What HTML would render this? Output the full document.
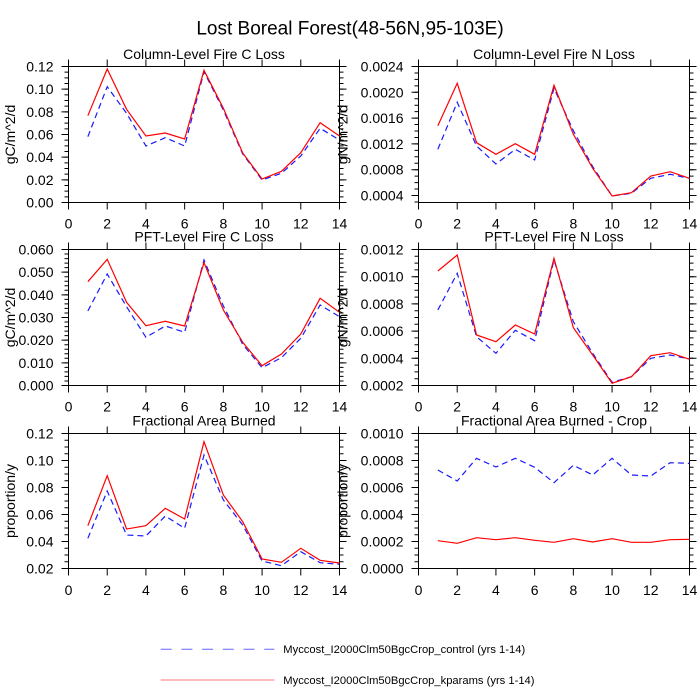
<!DOCTYPE html>
<html><head><meta charset="utf-8"><style>
html,body{margin:0;padding:0;background:#fff;}
svg{display:block;font-family:"Liberation Sans",Arial,sans-serif;}
</style></head><body>
<svg width="700" height="700" viewBox="0 0 700 700" xmlns="http://www.w3.org/2000/svg">
<rect width="700" height="700" fill="#fff"/>
<text x="350" y="34.3" font-size="19" text-anchor="middle">Lost Boreal Forest(48-56N,95-103E)</text>

<!-- ===== Panel 1 ===== -->
<g stroke="#000" fill="none">
<rect x="68.5" y="66.5" width="271" height="136" stroke-width="1"/>
<line x1="66.5" y1="203" x2="66.5" y2="66" stroke-width="4" stroke-dasharray="1 4.6667"/>
<line x1="65" y1="203" x2="65" y2="66" stroke-width="7" stroke-dasharray="1 21.667"/>
<line x1="341.5" y1="203" x2="341.5" y2="66" stroke-width="4" stroke-dasharray="1 4.6667"/>
<line x1="343" y1="203" x2="343" y2="66" stroke-width="7" stroke-dasharray="1 21.667"/>
<line x1="68" y1="63" x2="340" y2="63" stroke-width="7" stroke-dasharray="1 37.714"/>
<line x1="68" y1="206" x2="340" y2="206" stroke-width="7" stroke-dasharray="1 37.714"/>
</g>
<g font-size="14" text-anchor="end">
<text x="53.5" y="207.5">0.00</text><text x="53.5" y="184.8">0.02</text><text x="53.5" y="162.2">0.04</text><text x="53.5" y="139.5">0.06</text><text x="53.5" y="116.8">0.08</text><text x="53.5" y="94.2">0.10</text><text x="53.5" y="71.5">0.12</text>
</g>
<g font-size="14" text-anchor="middle">
<text x="68.5" y="228.3">0</text><text x="107.2" y="228.3">2</text><text x="145.9" y="228.3">4</text><text x="184.6" y="228.3">6</text><text x="223.4" y="228.3">8</text><text x="262.1" y="228.3">10</text><text x="300.8" y="228.3">12</text><text x="339.5" y="228.3">14</text>
<text x="204" y="59">Column-Level Fire C Loss</text>
<text x="15" y="134.5" transform="rotate(-90 15 134.5)">gC/m^2/d</text>
</g>
<polyline fill="none" stroke="#1a1aff" stroke-width="1.2" stroke-dasharray="6 4" points="87.86,136.7 107.21,86.7 126.57,113.3 145.93,146 165.29,137.7 184.64,146 204,71.7 223.36,110 242.71,154 262.07,180 281.43,173.3 300.79,156 320.14,128.3 339.5,140"/>
<polyline fill="none" stroke="#ff0000" stroke-width="1.2" points="87.86,115.7 107.21,69 126.57,109.3 145.93,136 165.29,133 184.64,139 204,70.3 223.36,108.3 242.71,153 262.07,179 281.43,171.3 300.79,152.7 320.14,122.7 339.5,136"/>

<!-- ===== Panel 2 ===== -->
<g stroke="#000" fill="none">
<rect x="418.5" y="66.5" width="271" height="136" stroke-width="1"/>
<line x1="416.5" y1="202.45" x2="416.5" y2="66" stroke-width="4" stroke-dasharray="1 5.45"/>
<line x1="415" y1="196" x2="415" y2="66" stroke-width="7" stroke-dasharray="1 24.8"/>
<line x1="691.5" y1="202.45" x2="691.5" y2="66" stroke-width="4" stroke-dasharray="1 5.45"/>
<line x1="693" y1="196" x2="693" y2="66" stroke-width="7" stroke-dasharray="1 24.8"/>
<line x1="418" y1="63" x2="690" y2="63" stroke-width="7" stroke-dasharray="1 37.714"/>
<line x1="418" y1="206" x2="690" y2="206" stroke-width="7" stroke-dasharray="1 37.714"/>
</g>
<g font-size="14" text-anchor="end">
<text x="403.5" y="200.5">0.0004</text><text x="403.5" y="174.7">0.0008</text><text x="403.5" y="148.9">0.0012</text><text x="403.5" y="123.1">0.0016</text><text x="403.5" y="97.3">0.0020</text><text x="403.5" y="71.5">0.0024</text>
</g>
<g font-size="14" text-anchor="middle">
<text x="418.5" y="228.3">0</text><text x="457.2" y="228.3">2</text><text x="495.9" y="228.3">4</text><text x="534.6" y="228.3">6</text><text x="573.4" y="228.3">8</text><text x="612.1" y="228.3">10</text><text x="650.8" y="228.3">12</text><text x="689.5" y="228.3">14</text>
<text x="554" y="59">Column-Level Fire N Loss</text>
<text x="347.5" y="134.5" transform="rotate(-90 347.5 134.5)">gN/m^2/d</text>
</g>
<polyline fill="none" stroke="#1a1aff" stroke-width="1.2" stroke-dasharray="6 4" points="437.86,149.3 457.21,102.3 476.57,146 495.93,164 515.29,149.3 534.64,160 554,88.3 573.36,130.7 592.71,166.7 612.07,196 631.43,193.3 650.79,178.3 670.14,174.3 689.5,178.3"/>
<polyline fill="none" stroke="#ff0000" stroke-width="1.2" points="437.86,125.7 457.21,83.3 476.57,142.7 495.93,154.3 515.29,143.7 534.64,154.3 554,85.3 573.36,134.3 592.71,168.3 612.07,196 631.43,192.7 650.79,176 670.14,171.7 689.5,178.3"/>

<!-- ===== Panel 3 ===== -->
<g stroke="#000" fill="none">
<rect x="68.5" y="249.5" width="271" height="136" stroke-width="1"/>
<line x1="66.5" y1="386" x2="66.5" y2="249" stroke-width="4" stroke-dasharray="1 3.5333"/>
<line x1="65" y1="386" x2="65" y2="249" stroke-width="7" stroke-dasharray="1 21.667"/>
<line x1="341.5" y1="386" x2="341.5" y2="249" stroke-width="4" stroke-dasharray="1 3.5333"/>
<line x1="343" y1="386" x2="343" y2="249" stroke-width="7" stroke-dasharray="1 21.667"/>
<line x1="68" y1="246" x2="340" y2="246" stroke-width="7" stroke-dasharray="1 37.714"/>
<line x1="68" y1="389" x2="340" y2="389" stroke-width="7" stroke-dasharray="1 37.714"/>
</g>
<g font-size="14" text-anchor="end">
<text x="53.5" y="390.5">0.000</text><text x="53.5" y="367.8">0.010</text><text x="53.5" y="345.2">0.020</text><text x="53.5" y="322.5">0.030</text><text x="53.5" y="299.8">0.040</text><text x="53.5" y="277.2">0.050</text><text x="53.5" y="254.5">0.060</text>
</g>
<g font-size="14" text-anchor="middle">
<text x="68.5" y="411.5">0</text><text x="107.2" y="411.5">2</text><text x="145.9" y="411.5">4</text><text x="184.6" y="411.5">6</text><text x="223.4" y="411.5">8</text><text x="262.1" y="411.5">10</text><text x="300.8" y="411.5">12</text><text x="339.5" y="411.5">14</text>
<text x="204" y="241.7">PFT-Level Fire C Loss</text>
<text x="15" y="317.5" transform="rotate(-90 15 317.5)">gC/m^2/d</text>
</g>
<polyline fill="none" stroke="#1a1aff" stroke-width="1.2" stroke-dasharray="6 4" points="87.86,311 107.21,274 126.57,306.7 145.93,337.3 165.29,326 184.64,332.3 204,260 223.36,306 242.71,344.3 262.07,367.7 281.43,357.7 300.79,338.3 320.14,305 339.5,316.7"/>
<polyline fill="none" stroke="#ff0000" stroke-width="1.2" points="87.86,281.7 107.21,259.3 126.57,302.3 145.93,325.7 165.29,321.3 184.64,326 204,262.7 223.36,310 242.71,342.3 262.07,365.7 281.43,354 300.79,334 320.14,298.3 339.5,312.3"/>

<!-- ===== Panel 4 ===== -->
<g stroke="#000" fill="none">
<rect x="418.5" y="249.5" width="271" height="136" stroke-width="1"/>
<line x1="416.5" y1="386" x2="416.5" y2="249" stroke-width="4" stroke-dasharray="1 5.8"/>
<line x1="415" y1="386" x2="415" y2="249" stroke-width="7" stroke-dasharray="1 26.2"/>
<line x1="691.5" y1="386" x2="691.5" y2="249" stroke-width="4" stroke-dasharray="1 5.8"/>
<line x1="693" y1="386" x2="693" y2="249" stroke-width="7" stroke-dasharray="1 26.2"/>
<line x1="418" y1="246" x2="690" y2="246" stroke-width="7" stroke-dasharray="1 37.714"/>
<line x1="418" y1="389" x2="690" y2="389" stroke-width="7" stroke-dasharray="1 37.714"/>
</g>
<g font-size="14" text-anchor="end">
<text x="403.5" y="390.5">0.0002</text><text x="403.5" y="363.3">0.0004</text><text x="403.5" y="336.1">0.0006</text><text x="403.5" y="308.9">0.0008</text><text x="403.5" y="281.7">0.0010</text><text x="403.5" y="254.5">0.0012</text>
</g>
<g font-size="14" text-anchor="middle">
<text x="418.5" y="411.5">0</text><text x="457.2" y="411.5">2</text><text x="495.9" y="411.5">4</text><text x="534.6" y="411.5">6</text><text x="573.4" y="411.5">8</text><text x="612.1" y="411.5">10</text><text x="650.8" y="411.5">12</text><text x="689.5" y="411.5">14</text>
<text x="554" y="241.7">PFT-Level Fire N Loss</text>
<text x="347.5" y="317.5" transform="rotate(-90 347.5 317.5)">gN/m^2/d</text>
</g>
<polyline fill="none" stroke="#1a1aff" stroke-width="1.2" stroke-dasharray="6 4" points="437.86,310 457.21,273.3 476.57,336.7 495.93,353.3 515.29,330.3 534.64,340.7 554,260 573.36,321.7 592.71,353.3 612.07,382.3 631.43,376.7 650.79,358.3 670.14,355 689.5,359"/>
<polyline fill="none" stroke="#ff0000" stroke-width="1.2" points="437.86,271 457.21,255 476.57,335 495.93,341.7 515.29,325 534.64,334 554,258.3 573.36,327.7 592.71,355 612.07,383.3 631.43,376.7 650.79,355.7 670.14,352.7 689.5,359.3"/>

<!-- ===== Panel 5 ===== -->
<g stroke="#000" fill="none">
<rect x="68.5" y="433.5" width="271" height="135" stroke-width="1"/>
<line x1="66.5" y1="569" x2="66.5" y2="433" stroke-width="4" stroke-dasharray="1 5.75"/>
<line x1="65" y1="569" x2="65" y2="433" stroke-width="7" stroke-dasharray="1 26"/>
<line x1="341.5" y1="569" x2="341.5" y2="433" stroke-width="4" stroke-dasharray="1 5.75"/>
<line x1="343" y1="569" x2="343" y2="433" stroke-width="7" stroke-dasharray="1 26"/>
<line x1="68" y1="430" x2="340" y2="430" stroke-width="7" stroke-dasharray="1 37.714"/>
<line x1="68" y1="572" x2="340" y2="572" stroke-width="7" stroke-dasharray="1 37.714"/>
</g>
<g font-size="14" text-anchor="end">
<text x="53.5" y="573.5">0.02</text><text x="53.5" y="546.5">0.04</text><text x="53.5" y="519.5">0.06</text><text x="53.5" y="492.5">0.08</text><text x="53.5" y="465.5">0.10</text><text x="53.5" y="438.5">0.12</text>
</g>
<g font-size="14" text-anchor="middle">
<text x="68.5" y="595">0</text><text x="107.2" y="595">2</text><text x="145.9" y="595">4</text><text x="184.6" y="595">6</text><text x="223.4" y="595">8</text><text x="262.1" y="595">10</text><text x="300.8" y="595">12</text><text x="339.5" y="595">14</text>
<text x="204" y="425.7">Fractional Area Burned</text>
<text x="15" y="501" transform="rotate(-90 15 501)">proportion/y</text>
</g>
<polyline fill="none" stroke="#1a1aff" stroke-width="1.2" stroke-dasharray="6 4" points="87.86,538.3 107.21,491 126.57,535 145.93,536 165.29,516 184.64,528.3 204,455 223.36,500 242.71,525 262.07,561 281.43,565.7 300.79,551.7 320.14,562.7 339.5,564.3"/>
<polyline fill="none" stroke="#ff0000" stroke-width="1.2" points="87.86,525.7 107.21,475.7 126.57,529 145.93,525.7 165.29,508.3 184.64,519 204,441.7 223.36,495 242.71,521.7 262.07,559 281.43,562.3 300.79,548.3 320.14,560.3 339.5,563"/>

<!-- ===== Panel 6 ===== -->
<g stroke="#000" fill="none">
<rect x="418.5" y="433.5" width="271" height="135" stroke-width="1"/>
<line x1="416.5" y1="569" x2="416.5" y2="433" stroke-width="4" stroke-dasharray="1 5.75"/>
<line x1="415" y1="569" x2="415" y2="433" stroke-width="7" stroke-dasharray="1 26"/>
<line x1="691.5" y1="569" x2="691.5" y2="433" stroke-width="4" stroke-dasharray="1 5.75"/>
<line x1="693" y1="569" x2="693" y2="433" stroke-width="7" stroke-dasharray="1 26"/>
<line x1="418" y1="430" x2="690" y2="430" stroke-width="7" stroke-dasharray="1 37.714"/>
<line x1="418" y1="572" x2="690" y2="572" stroke-width="7" stroke-dasharray="1 37.714"/>
</g>
<g font-size="14" text-anchor="end">
<text x="403.5" y="573.5">0.0000</text><text x="403.5" y="546.5">0.0002</text><text x="403.5" y="519.5">0.0004</text><text x="403.5" y="492.5">0.0006</text><text x="403.5" y="465.5">0.0008</text><text x="403.5" y="438.5">0.0010</text>
</g>
<g font-size="14" text-anchor="middle">
<text x="418.5" y="595">0</text><text x="457.2" y="595">2</text><text x="495.9" y="595">4</text><text x="534.6" y="595">6</text><text x="573.4" y="595">8</text><text x="612.1" y="595">10</text><text x="650.8" y="595">12</text><text x="689.5" y="595">14</text>
<text x="554" y="425.7">Fractional Area Burned - Crop</text>
<text x="347.5" y="501" transform="rotate(-90 347.5 501)">proportion/y</text>
</g>
<polyline fill="none" stroke="#1a1aff" stroke-width="1.2" stroke-dasharray="6 4" points="437.86,470 457.21,481 476.57,458.3 495.93,467 515.29,458.3 534.64,467.3 554,482.7 573.36,465.3 592.71,475 612.07,458.3 631.43,475 650.79,476 670.14,462.7 689.5,463.3"/>
<polyline fill="none" stroke="#ff0000" stroke-width="1.2" points="437.86,540.7 457.21,543.3 476.57,537.7 495.93,539.7 515.29,537.7 534.64,540.3 554,542.3 573.36,538.7 592.71,542 612.07,538.7 631.43,542.3 650.79,542.3 670.14,539.7 689.5,539.3"/>

<!-- ===== Legend ===== -->
<line x1="160.7" y1="649.3" x2="274.3" y2="649.3" stroke="#6666ff" stroke-width="1" stroke-dasharray="11 9.7"/>
<line x1="160.7" y1="680" x2="274.3" y2="680" stroke="#ff7777" stroke-width="1"/>
<g font-size="11.2">
<text x="283.3" y="653.2">Myccost_I2000Clm50BgcCrop_control (yrs 1-14)</text>
<text x="283.3" y="684">Myccost_I2000Clm50BgcCrop_kparams (yrs 1-14)</text>
</g>
</svg>
</body></html>
